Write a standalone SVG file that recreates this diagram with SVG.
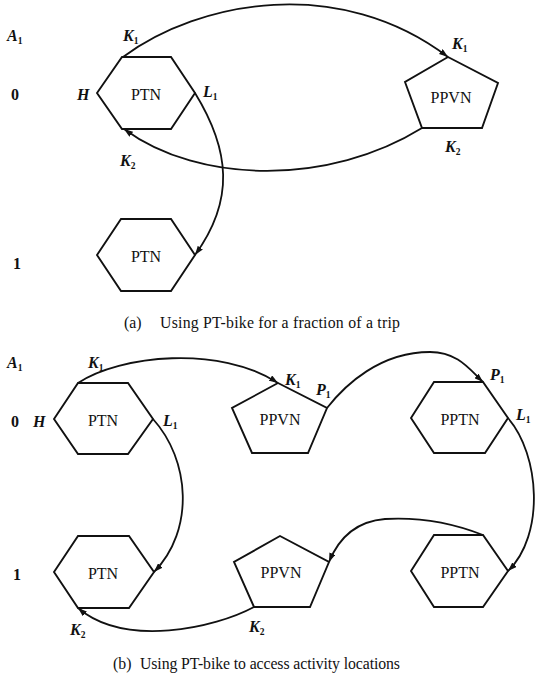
<svg xmlns="http://www.w3.org/2000/svg" width="535" height="682" viewBox="0 0 535 682">
  <style>
    .shape { fill: none; stroke: #111; stroke-width: 1.9; stroke-linejoin: miter; }
    .edge { fill: none; stroke: #111; stroke-width: 1.8; marker-end: url(#arr); }
    .node { font-family: "Liberation Serif", "Times New Roman", serif; font-size: 16px; fill: #111; text-anchor: middle; }
    .lab { font-family: "Liberation Serif", "Times New Roman", serif; font-size: 16px; font-style: italic; font-weight: bold; fill: #111; }
    .sub { font-size: 9.5px; font-style: normal; font-weight: bold; }
    .row { font-family: "Liberation Serif", "Times New Roman", serif; font-size: 16px; font-weight: bold; fill: #111; }
    .cap { font-family: "Liberation Serif", "Times New Roman", serif; font-size: 15.8px; fill: #111; }
  </style>
  <defs>
    <marker id="arr" viewBox="0 0 10 7" refX="10" refY="3.5" markerWidth="9" markerHeight="6.3" markerUnits="userSpaceOnUse" orient="auto">
      <path d="M0,0 L10,3.5 L0,7 z" fill="#111"/>
    </marker>
  </defs>
  <rect width="535" height="682" fill="#fff"/>

  <!-- (a) nodes -->
  <g id="a-ptn0">
    <polygon class="shape" points="97,93 122,57 171,57 195,93 171,129 122,129"/>
    <text class="node" x="146" y="100">PTN</text>
  </g>
  <g id="a-ppvn0">
    <polygon class="shape" points="448,57 498,83 482,128 422,128 405,82"/>
    <text class="node" x="451" y="103">PPVN</text>
  </g>
  <g id="a-ptn1">
    <polygon class="shape" points="97,255 121,219 171,219 195,255 171,291 121,291"/>
    <text class="node" x="146" y="262">PTN</text>
  </g>

  <!-- (b) nodes -->
  <g id="b-ptn0">
    <polygon class="shape" points="54,419 78,383 128,383 153,419 128,454 78,454"/>
    <text class="node" x="103" y="426">PTN</text>
  </g>
  <g id="b-ppvn0">
    <polygon class="shape" points="278,383 327,408 308,453 252,453 232,408"/>
    <text class="node" x="280" y="425">PPVN</text>
  </g>
  <g id="b-pptn0">
    <polygon class="shape" points="411,418 434,382 483,382 508,418 485,453 434,453"/>
    <text class="node" x="460" y="425">PPTN</text>
  </g>
  <g id="b-ptn1">
    <polygon class="shape" points="54,572 78,536 129,536 154,572 129,608 78,608"/>
    <text class="node" x="103" y="579">PTN</text>
  </g>
  <g id="b-ppvn1">
    <polygon class="shape" points="280,536 329,562 310,607 254,607 234,562"/>
    <text class="node" x="281" y="578">PPVN</text>
  </g>
  <g id="b-pptn1">
    <polygon class="shape" points="411,571 434,535 483,535 508,571 483,607 434,607"/>
    <text class="node" x="460" y="578">PPTN</text>
  </g>

  <!-- connectors -->
  <g id="connectors">
    <path class="edge" d="M123,57 C200,0 340,-25 448,57"/>
    <path class="edge" d="M422,128 C330,185 200,185 124,129"/>
    <path class="edge" d="M195,93 C230,150 235,200 195,255"/>
    <path class="edge" d="M78,383 C120,355 220,345 278,383"/>
    <path class="edge" d="M327,408 C345,385 380,352 430,352 C458,352 470,370 483,382"/>
    <path class="edge" d="M508,418 C540,455 545,535 508,571"/>
    <path class="edge" d="M483,535 C450,522 420,517 385,519 C360,521 340,535 329,562"/>
    <path class="edge" d="M153,419 C190,460 195,530 154,572"/>
    <path class="edge" d="M254,607 C215,628 125,648 78,608"/>
  </g>

  <!-- (a) labels -->
  <g id="a-labels">
    <text class="lab" x="7" y="41">A<tspan class="sub" dy="3">1</tspan></text>
    <text class="row" x="11" y="100">0</text>
    <text class="row" x="13" y="269">1</text>
    <text class="lab" x="123" y="41">K<tspan class="sub" dy="3">1</tspan></text>
    <text class="lab" x="77" y="100">H</text>
    <text class="lab" x="203" y="97">L<tspan class="sub" dy="3">1</tspan></text>
    <text class="lab" x="120" y="166">K<tspan class="sub" dy="3">2</tspan></text>
    <text class="lab" x="452" y="49">K<tspan class="sub" dy="3">1</tspan></text>
    <text class="lab" x="445" y="152">K<tspan class="sub" dy="3">2</tspan></text>
    <text class="cap" y="328"><tspan x="124">(a)</tspan><tspan x="160" textLength="240" lengthAdjust="spacing">Using PT-bike for a fraction of a trip</tspan></text>
  </g>

  <!-- (b) labels -->
  <g id="b-labels">
    <text class="lab" x="7" y="368">A<tspan class="sub" dy="3">1</tspan></text>
    <text class="lab" x="88" y="368">K<tspan class="sub" dy="3">1</tspan></text>
    <text class="row" x="11" y="427">0</text>
    <text class="lab" x="33" y="427">H</text>
    <text class="lab" x="163" y="426">L<tspan class="sub" dy="3">1</tspan></text>
    <text class="lab" x="285" y="385">K<tspan class="sub" dy="3">1</tspan></text>
    <text class="lab" x="316" y="395">P<tspan class="sub" dy="3">1</tspan></text>
    <text class="lab" x="490" y="380">P<tspan class="sub" dy="3">1</tspan></text>
    <text class="lab" x="516" y="420">L<tspan class="sub" dy="3">1</tspan></text>
    <text class="row" x="13" y="580">1</text>
    <text class="lab" x="70" y="635">K<tspan class="sub" dy="3">2</tspan></text>
    <text class="lab" x="249" y="632">K<tspan class="sub" dy="3">2</tspan></text>
    <text class="cap" y="669"><tspan x="113">(b)</tspan><tspan x="140" textLength="260" lengthAdjust="spacing">Using PT-bike to access activity locations</tspan></text>
  </g>
</svg>
